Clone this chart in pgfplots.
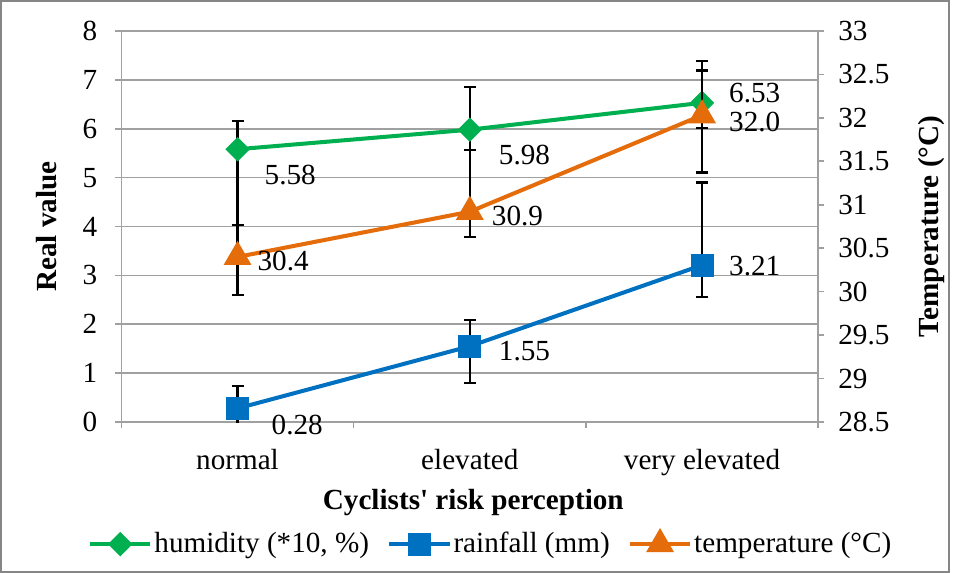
\documentclass[border=0pt]{standalone}
\usepackage{fontspec}
\setmainfont{Liberation Serif}
\usepackage{pgfplots}
\pgfplotsset{compat=1.18}
\definecolor{hum}{RGB}{0,176,80}
\definecolor{rain}{RGB}{0,112,192}
\definecolor{temp}{RGB}{228,108,10}
\definecolor{gridc}{RGB}{160,160,160}
\definecolor{framec}{RGB}{134,134,134}

\begin{document}
\fontsize{14.5}{17}\selectfont
\begin{tikzpicture}
\pgfplotsset{
  base/.style={at={(0,0)}, anchor=south west, scale only axis,
    width=346.5pt, height=194.5pt, xmin=-0.5, xmax=2.5,
    font=\fontsize{14.5}{17}\selectfont,
    /pgf/number format/assume math mode=true,
    tick align=outside, major tick length=3pt,
    axis line style={gridc, line width=0.8pt},
    every tick/.style={gridc, line width=0.8pt}},
  lab/.style={nodes near coords, point meta=explicit symbolic,
    visualization depends on={\thisrow{dx} \as \dx},
    visualization depends on={\thisrow{dy} \as \dy},
    every node near coord/.append style={anchor=west, inner sep=0pt,
      xshift=\dx pt, yshift=\dy pt, black, font=\fontsize{14.5}{17}\selectfont}},
  ebar/.style={error bars/.cd, y dir=both, y explicit,
    error bar style={black, line width=1.1pt},
    error mark options={black, line width=1.1pt, mark size=3pt, rotate=90}},
}
% left axis: humidity and rainfall
\begin{axis}[base,
  ymin=0, ymax=8, ytick={0,1,...,8},
  ymajorgrids, grid style={gridc, line width=0.8pt},
  tick pos=left,
  xtick={-0.5,0.5,1.5,2.5}, xticklabels={},
  extra x ticks={0,1,2},
  extra x tick labels={normal,elevated,very elevated},
  extra x tick style={major tick length=0pt, xticklabel style={yshift=-8.5pt}},
  yticklabel style={xshift=-4pt},
  ylabel={\bfseries Real value},
  ylabel style={at={(axis description cs:-0.108,0.5)}, anchor=center},
  xlabel={\bfseries Cyclists\textquotesingle\ risk perception},
  xlabel style={at={(axis description cs:0.505,-0.205)}, anchor=center},
  legend style={at={(axis description cs:0.53,-0.312)}, anchor=center,
    draw=none, fill=none, legend columns=3,
    font=\fontsize{14.5}{17}\selectfont,
    nodes={inner xsep=1pt},
    /tikz/every even column/.append style={column sep=8pt}},
  legend image code/.code={\draw[mark repeat=2, mark phase=2]
    plot coordinates {(0pt,0pt) (15pt,0pt) (30pt,0pt)};},
]
\addplot[hum, line width=2pt, mark=square*, mark size=3.3pt,
  mark options={rotate=45, solid}, lab, ebar]
  table[x=x, y=y, y error plus=ep, y error minus=em, meta=lab] {
x y ep em lab dx dy
0 5.58 0.57 1.55 5.58 12.5 -13
1 5.98 0.87 0.42 5.98 13.5 -12.5
2 6.53 0.66 0.52 6.53 12.5 5
};
\addplot[rain, line width=2pt, mark=square*, mark size=4.75pt,
  mark options={solid}, lab, ebar]
  table[x=x, y=y, y error plus=ep, y error minus=em, meta=lab] {
x y ep em lab dx dy
0 0.28 0.46 0.46 0.28 16 -8.5
1 1.55 0.53 0.75 1.55 13.5 -2.5
2 3.21 1.69 0.65 3.21 12.5 -0.5
};
\addlegendimage{temp, line width=2pt, mark=triangle*, mark size=6pt, mark options={solid}}
\legend{{humidity (*10, \%)}, {rainfall (mm)}, {temperature (°C)}}
\end{axis}
% right axis: temperature
\begin{axis}[base,
  ymin=28.5, ymax=33,
  ytick={28.5,29,29.5,30,30.5,31,31.5,32,32.5,33},
  axis y line*=right, axis x line=none,
  yticklabel style={xshift=2pt},
  ylabel={\bfseries Temperature (°C)},
  ylabel style={at={(axis description cs:1.162,0.5)}, anchor=center},
]
\addplot[temp, line width=2pt, mark=triangle*, mark size=6pt,
  mark options={solid}, lab, ebar]
  table[x=x, y=y, y error plus=ep, y error minus=em, meta=lab] {
x y ep em lab dx dy
0 30.40 0.37 0.44 30.4 9 -2
1 30.92 0.71 0.29 30.9 10 -2
2 32.03 0.62 0.66 32.0 12.5 -3.5
};
\end{axis}
\draw[framec, line width=0.75pt] (-60pt,-74.5pt) rectangle (411.5pt,209.5pt);
\end{tikzpicture}
\end{document}
